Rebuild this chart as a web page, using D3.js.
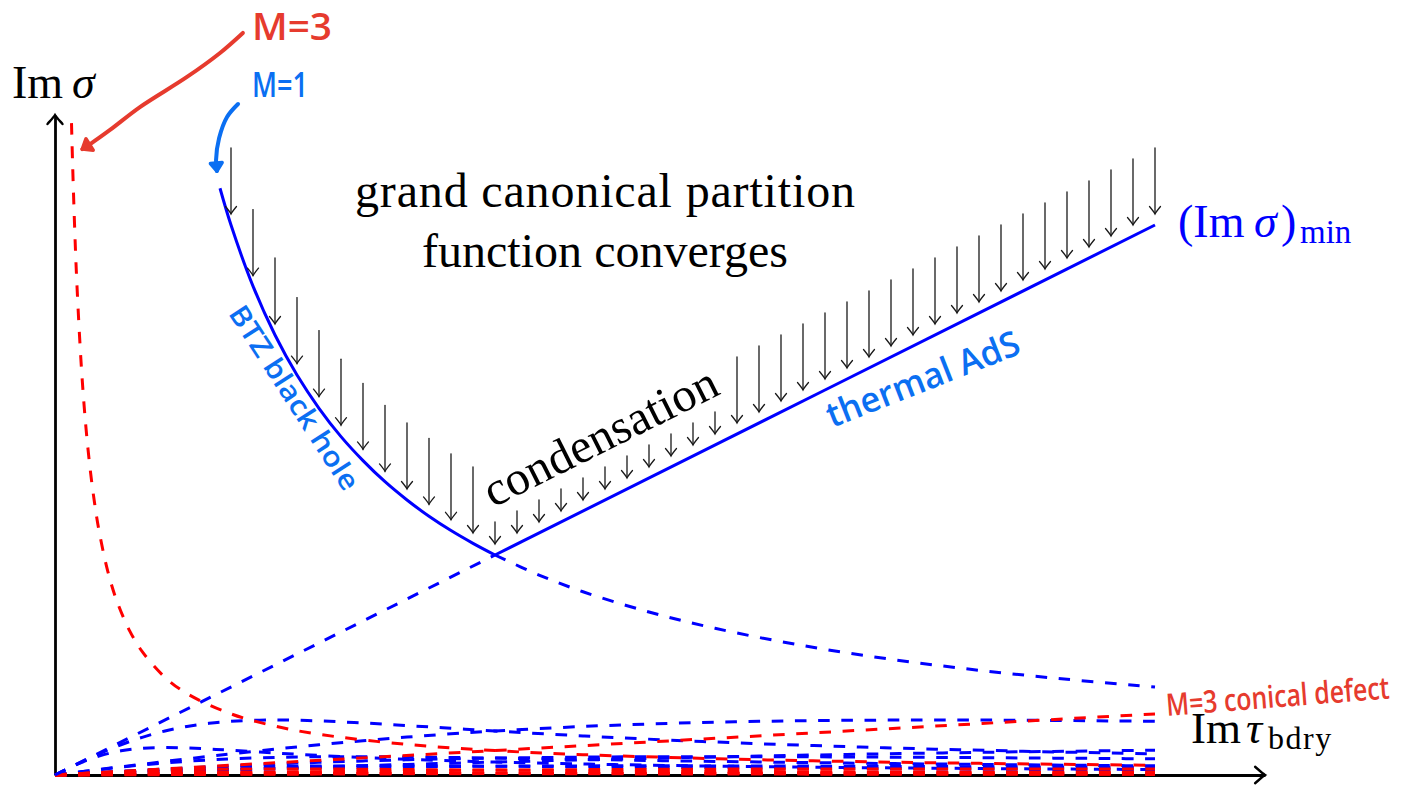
<!DOCTYPE html>
<html>
<head>
<meta charset="utf-8">
<script src="https://cdn.jsdelivr.net/npm/d3@7"></script>
<style>
  html, body { margin: 0; padding: 0; background: #fff; }
  svg { display: block; }
</style>
</head>
<body>
<svg id="chart" width="1408" height="785"></svg>
<script>
// ---------- data: Im sigma of the saddles as functions of Im tau ----------
// shared Im tau grid for the modular-image families
const tGrid = [0, 0.05, 0.1, 0.15, 0.2, 0.25, 0.3, 0.35, 0.4, 0.5, 0.6, 0.7, 0.8, 0.9, 1.0, 1.2, 1.4, 1.6, 1.8, 2.0, 2.2, 2.4, 2.5];

// M = 1 images (blue, dashed)
const blue21 = [0, .0495, .0962, .1376, .1724, .2, .2206, .2349, .2439, .25, .2459, .2365, .2247, .2123, .2, .1775, .1584, .1423, .1289, .1176, .1081, .0998, .0962];
const blue12 = [0, .0125, .0249, .0373, .0495, .0615, .0733, .0849, .0962, .1176, .1376, .1559, .1724, .1871, .2, .2206, .2349, .2439, .2486, .25, .2489, .2459, .2439];
const blue41 = [0, .0481, .0862, .1103, .122, .125, .123, .1182, .1124, .1, .0888, .0792, .0712, .0645, .0588, .0499, .0433, .0381, .0341, .0308, .028, .0258, .0248];
const blue14 = [0, .0031, .0062, .0094, .0125, .0156, .0186, .0217, .0248, .0308, .0367, .0425, .0481, .0535, .0588, .0688, .078, .0862, .0936, .1, .1056, .1103, .1124];
const blue32 = [0, .0124, .0244, .0357, .0459, .0548, .0624, .0686, .0735, .08, .0829, .0832, .082, .0797, .0769, .0708, .0647, .0592, .0543, .05, .0463, .043, .0415];
const blue23 = [0, .0055, .0111, .0165, .0218, .027, .0321, .0369, .0415, .05, .0575, .0639, .0692, .0735, .0769, .0813, .0831, .0832, .082, .08, .0776, .0749, .0735];
const blue43 = [0, .0055, .0109, .016, .0207, .025, .0287, .0319, .0346, .0385, .0407, .0416, .0416, .041, .04, .0375, .0347, .032, .0296, .0274, .0255, .0237, .0229];
const blue34 = [0, .0031, .0062, .0093, .0122, .0151, .0178, .0205, .0229, .0274, .0312, .0343, .0368, .0386, .04, .0414, .0416, .041, .0399, .0385, .0369, .0354, .0346];

// M = 3 images (red, dashed)
const red21 = [0, .0055, .0107, .0153, .0192, .0222, .0245, .0261, .0271, .0278, .0273, .0263, .025, .0236, .0222, .0197, .0176, .0158, .0143, .0131, .012, .0111, .0107];
const red12 = [0, .0014, .0028, .0041, .0055, .0068, .0081, .0094, .0107, .0131, .0153, .0173, .0192, .0208, .0222, .0245, .0261, .0271, .0276, .0278, .0277, .0273, .0271];
const red41 = [0, .0053, .0096, .0123, .0136, .0139, .0137, .0131, .0125, .0111, .0099, .0088, .0079, .0072, .0065, .0055, .0048, .0042, .0038, .0034, .0031, .0029, .0028];
const red14 = [0, .0003, .0007, .001, .0014, .0017, .0021, .0024, .0028, .0034, .0041, .0047, .0053, .0059, .0065, .0076, .0087, .0096, .0104, .0111, .0117, .0123, .0125];
const red32 = [0, .0014, .0027, .004, .0051, .0061, .0069, .0076, .0082, .0089, .0092, .0092, .0091, .0089, .0085, .0079, .0072, .0066, .006, .0056, .0051, .0048, .0046];
const red23 = [0, .0006, .0012, .0018, .0024, .003, .0036, .0041, .0046, .0056, .0064, .0071, .0077, .0082, .0085, .009, .0092, .0092, .0091, .0089, .0086, .0083, .0082];

// M = 3 BTZ branch and conical defect line
const redBtzT     = [0.0375, 0.04, 0.045, 0.05, 0.06, 0.07, 0.08, 0.09, 0.1, 0.12, 0.14, 0.17, 0.2, 0.25, 0.3, 0.4, 0.5, 0.6, 0.8, 1.0, 1.2, 1.5, 1.8, 2.1, 2.5];
const redBtzSigma = [2.963, 2.778, 2.469, 2.222, 1.852, 1.587, 1.389, 1.235, 1.111, .926, .794, .654, .556, .444, .370, .278, .222, .185, .139, .111, .0926, .0741, .0617, .0529, .0444];
const redDefectT     = [0, 2.5];
const redDefectSigma = [0, 0.2778];

// M = 1 BTZ black hole branch
const btzSolidT     = [0.375, 0.4, 0.45, 0.5, 0.55, 0.6, 0.65, 0.7, 0.75, 0.8, 0.85, 0.9, 0.95, 1.0];
const btzSolidSigma = [2.667, 2.5, 2.222, 2.0, 1.818, 1.667, 1.538, 1.429, 1.333, 1.25, 1.176, 1.111, 1.053, 1.0];
const btzDashT      = [1.0, 1.1, 1.2, 1.35, 1.5, 1.7, 1.9, 2.1, 2.3, 2.5];
const btzDashSigma  = [1.0, .909, .833, .741, .667, .588, .526, .476, .435, .4];

// M = 1 thermal AdS branch
const thermalDashT      = [0, 0.5, 1.0];
const thermalDashSigma  = [0, 0.5, 1.0];
const thermalSolidT     = [1.0, 1.75, 2.5];
const thermalSolidSigma = [1.0, 1.75, 2.5];

// downward arrows above (Im sigma)_min
const arrowT = [0.40, 0.45, 0.50, 0.55, 0.60, 0.65, 0.70, 0.75, 0.80, 0.85, 0.90, 0.95,
                1.00, 1.05, 1.10, 1.15, 1.20, 1.25, 1.30, 1.35, 1.40, 1.45, 1.50,
                1.55, 1.60, 1.65, 1.70, 1.75, 1.80, 1.85, 1.90, 1.95, 2.00, 2.05, 2.10,
                2.15, 2.20, 2.25, 2.30, 2.35, 2.40, 2.45, 2.50];
const arrowTip = [2.55, 2.27, 2.05, 1.87, 1.72, 1.59, 1.48, 1.38, 1.30, 1.23, 1.16, 1.10,
                  1.05, 1.10, 1.15, 1.20, 1.25, 1.30, 1.35, 1.40, 1.45, 1.50, 1.55,
                  1.60, 1.65, 1.70, 1.75, 1.80, 1.85, 1.90, 1.95, 2.00, 2.05, 2.10, 2.15,
                  2.20, 2.25, 2.30, 2.35, 2.40, 2.45, 2.50, 2.55];
const condensationT = [1.00, 1.05, 1.10, 1.15, 1.20, 1.25, 1.30, 1.35, 1.40, 1.45, 1.50];

// ---------- scales ----------
const svg = d3.select("#chart");
const x = d3.scaleLinear().domain([0, 2.5]).range([55, 1155]);
const y = d3.scaleLinear().domain([0, 3]).range([775, 115]);

const BLUE = "#0000ff", RED = "#ff0000";
const HAND_BLUE = "#0b6ff2", HAND_RED = "#e63b2e";
const DASH = "11.6 11.6";

const zip = (ts, ss) => ts.map((t, i) => [t, ss[i]]);
const smooth = d3.line().x(d => x(d[0])).y(d => y(d[1])).curve(d3.curveCatmullRom.alpha(0.5));
const straight = d3.line().x(d => x(d[0])).y(d => y(d[1]));

function curve(points, color, dashed, gen) {
  svg.append("path")
    .attr("d", (gen || smooth)(points))
    .attr("fill", "none")
    .attr("stroke", color)
    .attr("stroke-width", 3)
    .attr("stroke-dasharray", dashed ? DASH : null);
}

// ---------- axes ----------
const xAxisScale = d3.scaleLinear().domain([0, 2.75]).range([x(0), x(2.75)]);
const yAxisScale = d3.scaleLinear().domain([0, 3.0]).range([y(0), y(3.0)]);
const gx = svg.append("g").attr("transform", `translate(0,${y(0)})`)
  .call(d3.axisBottom(xAxisScale).tickValues([]).tickSizeOuter(0));
const gy = svg.append("g").attr("transform", `translate(${x(0)},0)`)
  .call(d3.axisLeft(yAxisScale).tickValues([]).tickSizeOuter(0));
[gx, gy].forEach(g => g.select(".domain").attr("stroke", "#000").attr("stroke-width", 2.8));

// open LaTeX-style arrow heads on the axes
function axisHead(px, py, angle, s) {
  svg.append("path")
    .attr("d", `M${-7.5 * s},${-9 * s} C${-4 * s},${-5 * s} ${-1.2 * s},${-2 * s} 0,0 C${1.2 * s},${-2 * s} ${4 * s},${-5 * s} ${7.5 * s},${-9 * s}`)
    .attr("transform", `translate(${px},${py}) rotate(${angle})`)
    .attr("fill", "none").attr("stroke", "#000").attr("stroke-width", 2.4)
    .attr("stroke-linecap", "round");
}
axisHead(xAxisScale.range()[1], y(0), -90, 1.1);
axisHead(x(0), yAxisScale.range()[1], 180, 1.0);

// ---------- modular-image families ----------
[blue21, blue12, blue41, blue14, blue32, blue23, blue43, blue34]
  .forEach(vals => curve(zip(tGrid, vals), BLUE, true));
[red21, red12, red41, red14, red32, red23]
  .forEach(vals => curve(zip(tGrid, vals), RED, true));

curve(zip(redBtzT, redBtzSigma), RED, true);
curve(zip(redDefectT, redDefectSigma), RED, true, straight);

curve(zip(btzDashT, btzDashSigma), BLUE, true);
curve(zip(thermalDashT, thermalDashSigma), BLUE, true, straight);
curve(zip(btzSolidT, btzSolidSigma), BLUE, false);
curve(zip(thermalSolidT, thermalSolidSigma), BLUE, false, straight);

// ---------- downward arrows ----------
const LONG = 0.3, SHORT = 0.1;
const arrows = svg.append("g").attr("stroke", "#1a1a1a").attr("fill", "none")
  .attr("stroke-width", 1.3).attr("stroke-linecap", "round");
arrowT.forEach((t, i) => {
  const tip = arrowTip[i];
  const len = condensationT.includes(t) ? SHORT : LONG;
  const px = x(t), py = y(tip);
  arrows.append("line").attr("x1", px).attr("x2", px).attr("y1", y(tip + len)).attr("y2", py - 0.5);
  arrows.append("path")
    .attr("d", `M${px - 5.5},${py - 7.5} C${px - 3},${py - 4.5} ${px - 1},${py - 2} ${px},${py} C${px + 1},${py - 2} ${px + 3},${py - 4.5} ${px + 5.5},${py - 7.5}`);
});

// ---------- typeset labels ----------
const SERIF = "'Liberation Serif', 'Times New Roman', serif";
const HAND = "'Open Sans', 'Noto Sans', sans-serif";

const ylab = svg.append("text").attr("x", 12).attr("y", 98)
  .attr("font-family", SERIF).attr("font-size", 46).attr("fill", "#000");
ylab.append("tspan").text("Im");
ylab.append("tspan").attr("x", 72).attr("font-style", "italic").text("σ");

const xlab = svg.append("text").attr("x", 1191).attr("y", 743)
  .attr("font-family", SERIF).attr("font-size", 45).attr("fill", "#000");
xlab.append("tspan").text("Im");
xlab.append("tspan").attr("x", 1246).attr("font-style", "italic").text("τ");
xlab.append("tspan").attr("x", 1268).attr("y", 749).attr("font-size", 32)
  .attr("letter-spacing", 1.5).text("bdry");

const minLab = svg.append("text").attr("x", 1178).attr("y", 237)
  .attr("font-family", SERIF).attr("font-size", 46).attr("fill", BLUE);
minLab.append("tspan").text("(Im");
minLab.append("tspan").attr("x", 1254).attr("font-style", "italic").text("σ");
minLab.append("tspan").attr("x", 1281).text(")");
minLab.append("tspan").attr("x", 1300).attr("y", 243).attr("font-size", 33).text("min");

svg.append("text").attr("x", 605).attr("y", 207).attr("text-anchor", "middle")
  .attr("font-family", SERIF).attr("font-size", 48).attr("textLength", 500).attr("lengthAdjust", "spacing")
  .text("grand canonical partition");
svg.append("text").attr("x", 605).attr("y", 267).attr("text-anchor", "middle")
  .attr("font-family", SERIF).attr("font-size", 48).attr("textLength", 366).attr("lengthAdjust", "spacing")
  .text("function converges");
svg.append("text").attr("transform", "translate(493,508) rotate(-26.57)")
  .attr("font-family", SERIF).attr("font-size", 48).attr("textLength", 256).attr("lengthAdjust", "spacing")
  .text("condensation");

// ---------- handwritten annotations ----------
// each label is squeezed horizontally to its written width
function hand(text, transform, size, len, color, anchor) {
  const t = svg.append("text")
    .attr("font-family", HAND).attr("font-weight", 600).attr("font-size", size)
    .attr("text-anchor", anchor || "start").attr("fill", color).text(text);
  const natural = t.node().getComputedTextLength() || len;
  t.attr("transform", `${transform} scale(${len / natural},1)`);
}
hand("M=3", "translate(252,40)", 37, 80, HAND_RED);
hand("M=1", "translate(252,97)", 34, 56, HAND_BLUE);
hand("BTZ black hole", "translate(286,403) rotate(57)", 28, 214, HAND_BLUE, "middle");
hand("thermal AdS", "translate(832,428) rotate(-21.5)", 35, 205, HAND_BLUE);
hand("M=3 conical defect", "translate(1167,716) rotate(-4.5)", 31, 224, HAND_RED);

// pointer strokes from the labels to the start of each branch
const redPointer  = [[0.427, 3.373], [0.375, 3.282], [0.30, 3.173], [0.193, 3.036], [0.125, 2.932], [0.08, 2.868], [0.062, 2.845]];
const bluePointer = [[0.416, 3.05], [0.391, 2.991], [0.373, 2.895], [0.366, 2.795], [0.368, 2.745]];
const pointer = d3.line().x(d => x(d[0])).y(d => y(d[1])).curve(d3.curveCatmullRom.alpha(0.5));
svg.append("path").attr("d", pointer(redPointer)).attr("fill", "none")
  .attr("stroke", HAND_RED).attr("stroke-width", 4).attr("stroke-linecap", "round");
svg.append("path").attr("d", pointer(bluePointer)).attr("fill", "none")
  .attr("stroke", HAND_BLUE).attr("stroke-width", 4).attr("stroke-linecap", "round");

// pointer heads: short barbs folded back along the stroke
function pointerHead(pts, color, spread, size) {
  const a = pts[pts.length - 2], b = pts[pts.length - 1];
  const tx = x(b[0]), ty = y(b[1]);
  const back = Math.atan2(y(a[1]) - ty, x(a[0]) - tx);
  const r = spread * Math.PI / 180;
  const p1 = [tx + size * Math.cos(back - r), ty + size * Math.sin(back - r)];
  const p2 = [tx + size * Math.cos(back + r), ty + size * Math.sin(back + r)];
  svg.append("path")
    .attr("d", `M${p1[0]},${p1[1]} L${tx},${ty} L${p2[0]},${p2[1]} Z`)
    .attr("fill", color).attr("stroke", color).attr("stroke-width", 3.5)
    .attr("stroke-linejoin", "round");
}
pointerHead(redPointer, HAND_RED, 38, 11);
pointerHead(bluePointer, HAND_BLUE, 36, 10);
</script>
</body>
</html>
